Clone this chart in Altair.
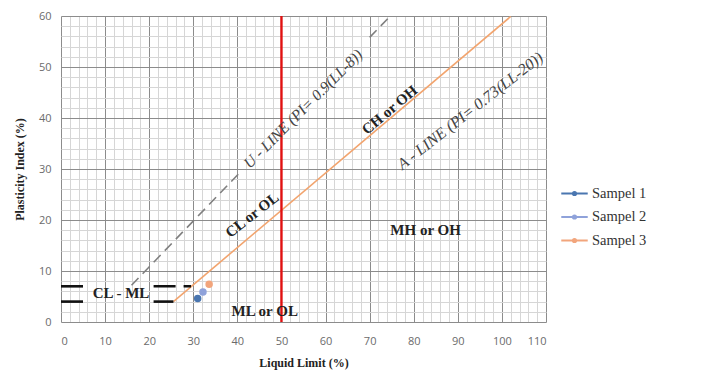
import altair as alt
import pandas as pd

# --- data ---
samples = ["Sampel 1", "Sampel 2", "Sampel 3"]
sample_ll = [31.0, 32.2, 33.6]
sample_pi = [4.6, 5.9, 7.4]
sample_colors = ["#4A76B0", "#8FA2DA", "#F2A57C"]

a_ll = [25.5, 102.0]
a_pi = [4.0, 59.9]

u_ll = [16.0, 40.5, 70.0, 74.7]
u_pi = [7.2, 29.25, 55.8, 60.0]
u_seg = [1, 1, 2, 2]

red_ll = [50, 50]
red_pi = [0, 60]

clml_ll = [0, 5, 21, 25.5, 0, 5, 21, 29.5]
clml_pi = [4, 4, 4, 4, 7, 7, 7, 7]
clml_seg = [1, 1, 2, 2, 3, 3, 4, 4]

zone_text = ["CL - ML", "ML or OL", "MH or OH", "CL or OL", "CH or OH"]
zone_ll = [13.6, 46.2, 82.7, 43.3, 74.5]
zone_pi = [5.6, 2.2, 18.0, 21.0, 41.6]
zone_angle = [0, 0, 0, 322, 320]

u_text = ["U - LINE (PI= 0.9(LL-8))"]
u_text_ll = [54.9]
u_text_pi = [41.8]
a_text = ["A - LINE (PI= 0.73(LL-20))"]
a_text_ll = [92.8]
a_text_pi = [41.4]

x_ticks = list(range(0, 111, 2))
y_ticks = list(range(0, 61, 2))

W, H = 485, 306

xs = alt.Scale(domain=[0, 110], nice=False)
ys = alt.Scale(domain=[0, 60], nice=False)

grid_color = {"condition": {"test": "datum.value % 10 === 0", "value": "#8c8c8c"}, "value": "#d6d6d6"}

x_axis = alt.Axis(values=x_ticks, labelExpr="datum.value % 10 === 0 ? datum.label : ''",
                  gridColor=grid_color, ticks=False, domain=False, labelOverlap=False,
                  labelFont="Open Sans", labelFontSize=11, labelColor="#6b6b6b", labelPadding=13,
                  title="Liquid Limit (%)", titleFont="Liberation Serif", titleFontSize=12,
                  titleFontWeight="bold", titleColor="#222222", titlePadding=11)
y_axis = alt.Axis(values=y_ticks, labelExpr="datum.value % 10 === 0 ? datum.label : ''",
                  gridColor=grid_color, ticks=False, domain=False, labelOverlap=False,
                  labelFont="Open Sans", labelFontSize=11, labelColor="#6b6b6b", labelPadding=10,
                  title="Plasticity Index (%)", titleFont="Liberation Serif", titleFontSize=12,
                  titleFontWeight="bold", titleColor="#222222", titlePadding=12)


def X():
    return alt.X("ll:Q", scale=xs, axis=x_axis)


def Y():
    return alt.Y("pi:Q", scale=ys, axis=y_axis)


u_df = pd.DataFrame({"ll": u_ll, "pi": u_pi, "seg": u_seg})
u_line = alt.Chart(u_df).mark_line(color="#7f7f7f", strokeWidth=1.6, strokeDash=[10, 6]).encode(
    x=X(), y=Y(), detail="seg:N")

a_df = pd.DataFrame({"ll": a_ll, "pi": a_pi})
a_line = alt.Chart(a_df).mark_line(color="#F2A46E", strokeWidth=1.6).encode(x=X(), y=Y())

red_df = pd.DataFrame({"ll": red_ll, "pi": red_pi})
red_line = alt.Chart(red_df).mark_line(color="#E01010", strokeWidth=2.4).encode(x=X(), y=Y())

cl_df = pd.DataFrame({"ll": clml_ll, "pi": clml_pi, "seg": clml_seg})
cl_lines = alt.Chart(cl_df).mark_line(color="#111111", strokeWidth=2.6, strokeDash=[22, 8]).encode(
    x=X(), y=Y(), detail="seg:N")

s_df = pd.DataFrame({"ll": sample_ll, "pi": sample_pi, "series": samples})
sym = "M-1,0L1,0M-0.12,0A0.12,0.12 0 1,0 0.12,0A0.12,0.12 0 1,0 -0.12,0"
legend = alt.Legend(title=None, orient="none", legendX=499, legendY=163, symbolType=sym,
                    symbolSize=700, symbolStrokeWidth=2, labelFont="Liberation Serif",
                    labelFontSize=14.5, labelColor="#333333", labelOffset=3, rowPadding=2.5)
pts = alt.Chart(s_df).mark_point(filled=False, size=30, strokeWidth=2, opacity=1).encode(
    x=X(), y=Y(),
    color=alt.Color("series:N", scale=alt.Scale(domain=samples, range=sample_colors), legend=legend),
    fill=alt.Fill("series:N", scale=alt.Scale(domain=samples, range=sample_colors), legend=legend),
)

z_df = pd.DataFrame({"ll": zone_ll, "pi": zone_pi, "t": zone_text, "a": zone_angle})
zones = alt.Chart(z_df).mark_text(font="Liberation Serif", fontSize=15, fontWeight="bold",
                                  color="#222222").encode(
    x=X(), y=Y(), text="t:N", angle=alt.Angle("a:Q", scale=None))

ut_df = pd.DataFrame({"ll": u_text_ll, "pi": u_text_pi, "t": u_text})
utxt = alt.Chart(ut_df).mark_text(font="Liberation Serif", fontStyle="italic", fontSize=15.5,
                                  angle=315, color="#444444").encode(x=X(), y=Y(), text="t:N")

at_df = pd.DataFrame({"ll": a_text_ll, "pi": a_text_pi, "t": a_text})
atxt = alt.Chart(at_df).mark_text(font="Liberation Serif", fontStyle="italic", fontSize=16,
                                  angle=322, color="#444444").encode(x=X(), y=Y(), text="t:N")

chart = alt.layer(u_line, a_line, red_line, cl_lines, pts, zones, utxt, atxt).properties(
    width=W, height=H, padding={"left": 5, "top": 2, "right": 5, "bottom": 5}
).configure_view(stroke=None)

chart.save("out.html", embed_options={"renderer": "svg", "actions": False})
